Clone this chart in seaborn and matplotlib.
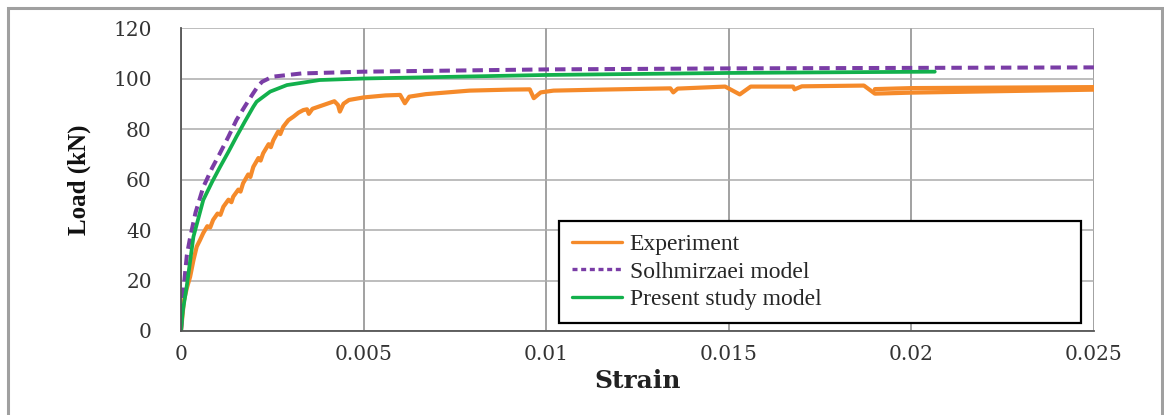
import numpy as np
import pandas as pd
import matplotlib
matplotlib.use("Agg")
import matplotlib.pyplot as plt
import seaborn as sns
from matplotlib.patches import Rectangle

# ---- data ----
exp_strain = [0.0, 0.00008, 0.00016, 0.00025, 0.00034, 0.00043, 0.00052, 0.00061, 0.00072, 0.00080, 0.00088,
              0.00100, 0.00108, 0.00116, 0.00130, 0.00138, 0.00143, 0.00157, 0.00163, 0.00170,
              0.00184, 0.00190, 0.00198, 0.00212, 0.00218, 0.00225, 0.00240, 0.00246, 0.00253,
              0.00266, 0.00272, 0.00280, 0.00294, 0.00308, 0.00322, 0.00335, 0.00345, 0.00350,
              0.00360, 0.00390, 0.00420, 0.00430, 0.00435, 0.00445, 0.00460, 0.00500, 0.00560,
              0.00600, 0.00613, 0.00625, 0.00670, 0.00790, 0.00900, 0.00955, 0.00966, 0.00985,
              0.01020, 0.01150, 0.01340, 0.01348, 0.01360, 0.01490, 0.01530, 0.01560, 0.01676,
              0.01680, 0.01700, 0.01870, 0.01900, 0.02000, 0.02250, 0.02507, 0.02507, 0.02250,
              0.02000, 0.01900]
exp_load = [0.0, 12.0, 17.0, 21.5, 28.0, 33.4, 36.0, 38.8, 41.5, 41.0, 44.0,
            46.5, 46.0, 49.2, 52.0, 51.0, 53.2, 56.0, 55.2, 58.5,
            62.0, 61.0, 65.0, 68.5, 67.5, 70.4, 74.0, 72.8, 75.6,
            79.0, 78.0, 80.9, 83.5, 84.9, 86.5, 87.5, 87.8, 86.0,
            88.0, 89.5, 91.0, 89.5, 86.9, 90.0, 91.5, 92.5, 93.3,
            93.5, 90.2, 92.8, 93.8, 95.2, 95.6, 95.7, 92.2, 94.5,
            95.2, 95.6, 96.1, 94.5, 96.0, 96.8, 93.7, 96.8, 96.8,
            95.7, 96.9, 97.2, 94.0, 94.4, 95.0, 95.6, 96.6, 96.4,
            96.2, 95.8]

sol_strain = [0.0, 0.00008, 0.00016, 0.00025, 0.00040, 0.00061, 0.00085, 0.00107, 0.00130, 0.00152,
              0.00175, 0.00197, 0.00210, 0.00222, 0.00250, 0.00330, 0.00500, 0.01000, 0.01500,
              0.02000, 0.02507]
sol_load = [0.0, 18.0, 30.0, 37.0, 47.0, 57.0, 64.5, 70.5, 77.0, 83.6,
            89.0, 94.0, 96.8, 98.7, 100.7, 102.0, 102.7, 103.6, 104.0,
            104.2, 104.4]

pre_strain = [0.0, 0.00005, 0.000155, 0.00034, 0.00061, 0.00085, 0.00107, 0.00130, 0.00152, 0.00175,
              0.00198, 0.00207, 0.00244, 0.00290, 0.00380, 0.00500, 0.01000, 0.01500, 0.02064]
pre_load = [0.0, 8.0, 17.5, 37.3, 51.9, 59.0, 65.0, 71.0, 77.0, 83.0,
            88.8, 90.8, 94.8, 97.4, 99.4, 100.0, 101.4, 102.2, 102.7]

series_names = ["Experiment", "Solhmirzaei model", "Present study model"]
x_ticks = [0, 0.005, 0.01, 0.015, 0.02, 0.025]
x_tick_labels = ["0", "0.005", "0.01", "0.015", "0.02", "0.025"]
y_ticks = [0, 20, 40, 60, 80, 100, 120]
y_tick_labels = ["0", "20", "40", "60", "80", "100", "120"]

# ---- style ----
sns.set_theme(style="whitegrid")
plt.rcParams['font.family'] = ['DejaVu Serif']

fig = plt.figure(figsize=(11.64, 4.15), dpi=100)
ax = fig.add_axes([181 / 1164, 1 - 331 / 415, (1094 - 181) / 1164, (331 - 28) / 415])
ax.set_facecolor("white")

df_exp = pd.DataFrame({"strain": exp_strain, "load": exp_load})
df_sol = pd.DataFrame({"strain": sol_strain, "load": sol_load})
df_pre = pd.DataFrame({"strain": pre_strain, "load": pre_load})

sns.lineplot(data=df_exp, x="strain", y="load", sort=False, estimator=None, ax=ax,
             color="#F58A2A", linewidth=3.0, label=series_names[0])
sns.lineplot(data=df_sol, x="strain", y="load", sort=False, estimator=None, ax=ax,
             color="#7A3DA6", linewidth=2.9, label=series_names[1])
ax.lines[-1].set_linestyle((0, (2.6, 1.5)))
sns.lineplot(data=df_pre, x="strain", y="load", sort=False, estimator=None, ax=ax,
             color="#12B04C", linewidth=2.7, label=series_names[2])

ax.set_xlim(0, 0.025)
ax.set_ylim(0, 120)
ax.set_xticks(x_ticks)
ax.set_xticklabels(x_tick_labels)
ax.set_yticks(y_ticks)
ax.set_yticklabels(y_tick_labels)
ax.tick_params(axis="both", length=0, labelsize=14.5, colors="#333333")
ax.tick_params(axis="x", pad=10)
ax.tick_params(axis="y", pad=21)

ax.grid(True, color="#ABABAB", linewidth=1.1)
ax.xaxis.grid(True, color="#9A9A9A", linewidth=1.3)
for s in ["top", "right"]:
    ax.spines[s].set_visible(False)
for s in ["left", "bottom"]:
    ax.spines[s].set_visible(True)
    ax.spines[s].set_color("#555555")
    ax.spines[s].set_linewidth(1.3)

ax.set_xlabel("Strain", fontsize=18, fontweight="bold", color="#222222", labelpad=4)
ax.set_ylabel("Load (kN)", fontsize=18, fontweight="bold", family="Liberation Serif",
              color="#111111", labelpad=16)

handles, labels = ax.get_legend_handles_labels()
leg = ax.legend(handles, labels, loc="lower left",
                bbox_to_anchor=((559 - 181) / 913, (331 - 323) / 303, (1081 - 559) / 913, 0.3),
                mode="expand", prop={"family": "Liberation Serif", "size": 17},
                frameon=True, fancybox=False, framealpha=1, edgecolor="black",
                handlelength=2.1, handletextpad=0.35, labelspacing=0.25, borderpad=0.55,
                borderaxespad=0)
leg.get_frame().set_linewidth(1.6)
for h in leg.get_lines():
    h.set_linewidth(2.4)
leg.get_lines()[1].set_linestyle((0, (1.5, 1.1)))

# outer figure frame
fig.patches.append(Rectangle((8 / 1164, -0.05), (1162 - 8) / 1164, 1.05 - 8 / 415,
                             transform=fig.transFigure, fill=False,
                             edgecolor="#A0A0A0", linewidth=2.2))

fig.savefig("out.png", dpi=100, facecolor="white")
